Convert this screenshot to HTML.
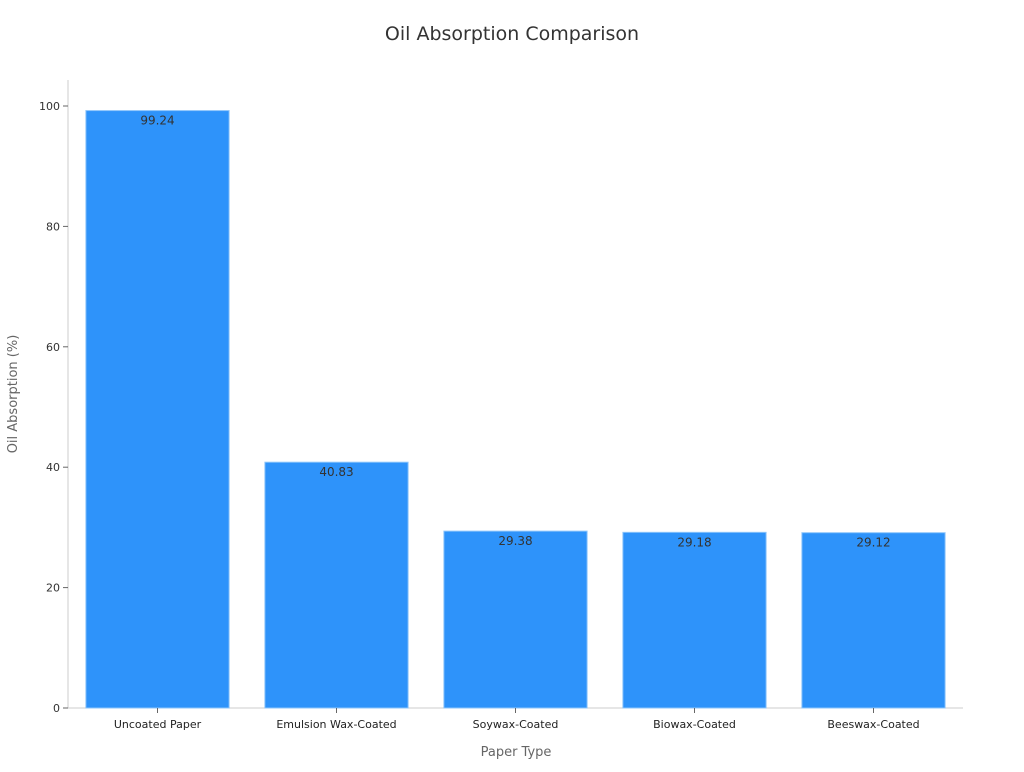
<!DOCTYPE html>
<html><head><meta charset="utf-8"><style>
body{margin:0;background:#fff;font-family:"DejaVu Sans","Liberation Sans",sans-serif;}
svg text{font-family:"DejaVu Sans","Liberation Sans",sans-serif;}
</style></head><body>
<svg id="chart" width="1024" height="768">
<text x="512" y="40" text-anchor="middle" font-size="19" fill="#333">Oil Absorption Comparison</text>
<text x="516" y="756" text-anchor="middle" font-size="13" fill="#666">Paper Type</text>
<text transform="translate(17,394) rotate(-90)" text-anchor="middle" font-size="13" fill="#666">Oil Absorption (%)</text>
<g id="g"></g>
</svg>
<script>
const categories=["Uncoated Paper","Emulsion Wax-Coated","Soywax-Coated","Biowax-Coated","Beeswax-Coated"];
const values=[99.24,40.83,29.38,29.18,29.12];
const yTicks=[0,20,40,60,80,100];
const L=68,R=963,Y0=708,Y100=106;
const y=v=>Y0+(Y100-Y0)*v/100;
const band=(R-L)/categories.length;
const x=i=>L+band*i;
const g=document.getElementById('g');
const NS='http://www.w3.org/2000/svg';
function mk(t,a){const e=document.createElementNS(NS,t);for(const k in a)e.setAttribute(k,a[k]);g.appendChild(e);return e;}
let ax=mk('line',{x1:L,y1:80,x2:L,y2:Y0,stroke:'#ccc'});


let bx=mk('line',{x1:L,y1:Y0,x2:R,y2:Y0,stroke:'#ccc'});


yTicks.forEach(t=>{
 let l=mk('line',{x1:L-5,y1:y(t),x2:L,y2:y(t),stroke:'#666'});
 
 
 let tx=mk('text',{x:L-8,y:y(t)+4,'text-anchor':'end','font-size':11,fill:'#333'});
 tx.textContent=t;
 
 
});
categories.forEach((c,i)=>{
 const bw=band*0.8,bxp=x(i)+band*0.1;
 let r=mk('rect',{x:bxp,y:y(values[i]),width:bw,height:Y0-y(values[i]),fill:'#2e93fa',stroke:'#8cc4fb','stroke-width':1});
 
 
 let v=mk('text',{x:x(i)+band/2,y:y(values[i])+14,'text-anchor':'middle','font-size':12,fill:'#333'});
 v.textContent=values[i].toFixed(2);
 
 
 let tk=mk('line',{x1:x(i)+band/2,y1:Y0,x2:x(i)+band/2,y2:Y0+5,stroke:'#666'});
 
 
 let cl=mk('text',{x:x(i)+band/2,y:Y0+20,'text-anchor':'middle','font-size':11,fill:'#222'});
 cl.textContent=c;
 
 
});
</script>
</body></html>
